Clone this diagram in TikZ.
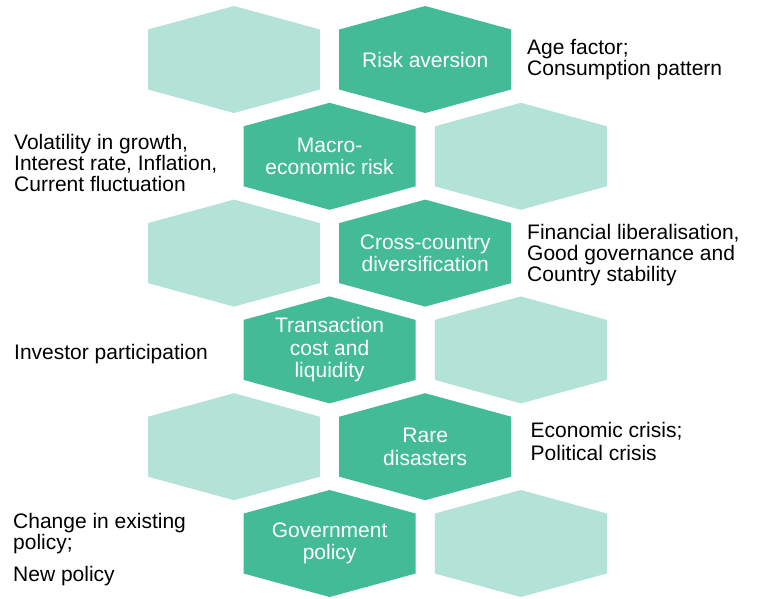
\documentclass[tikz,border=0pt]{standalone}
\usepackage{fontspec}
\setmainfont{Liberation Sans}
\definecolor{hexdark}{RGB}{68,187,151}
\definecolor{hexlight}{RGB}{179,227,214}

\begin{document}
\begin{tikzpicture}[
  x=1pt, y=-1pt,
  hexlabel/.style={text=white, align=center, inner sep=0pt, font=\fontsize{21}{22.5}\selectfont},
  note/.style={anchor=north west, align=left, inner sep=0pt, font=\fontsize{21}{21}\selectfont}]
  \useasboundingbox (0,0) rectangle (758,598);
  % Honeycomb: two cells per row, rows shifted by half a cell
  \foreach \cx/\cy/\shade in {
      234/59.5/hexlight,   425.2/59.5/hexdark,
      329.6/156.3/hexdark, 520.8/156.3/hexlight,
      234/253.1/hexlight,  425.2/253.1/hexdark,
      329.6/349.9/hexdark, 520.8/349.9/hexlight,
      234/446.7/hexlight,  425.2/446.7/hexdark,
      329.6/543.5/hexdark, 520.8/543.5/hexlight}
    \fill[\shade] (\cx,\cy) +(-86,-30) -- +(-86,30) -- +(0,53.5) -- +(86,30)
      -- +(86,-30) -- +(0,-53.5) -- cycle;
  % Factor names in the dark cells
  \node[hexlabel] (risk)  at (425.2,59.5)  {Risk aversion};
  \node[hexlabel] (macro) at (329.6,156.3) {Macro-\\economic risk};
  \node[hexlabel] (cross) at (425.2,253.1) {Cross-country\\diversification};
  \node[hexlabel] (trans) at (329.6,349.9) {Transaction\\cost and\\liquidity};
  \node[hexlabel] (rare)  at (425.2,446.7) {Rare\\disasters};
  \node[hexlabel] (gov)   at (329.6,543.5) {Government\\policy};
  % Side notes
  \node[note] (agenote)   at (527,38.8)   {Age factor;\\Consumption pattern};
  \node[note] (volnote)   at (14,134.1)   {Volatility in growth,\\Interest rate, Inflation,\\Current fluctuation};
  \node[note] (finnote)   at (527,223.8)  {Financial liberalisation,\\Good governance and\\Country stability};
  \node[note] (invnote)   at (14,343.9)   {Investor participation};
  \node[note] (crisnote)  at (530.5,421.8) {Economic crisis;\\[2pt]Political crisis};
  \node[note] (polnote)   at (13,513.1)   {Change in existing\\policy;\\[11pt]New policy};
\end{tikzpicture}
\end{document}
